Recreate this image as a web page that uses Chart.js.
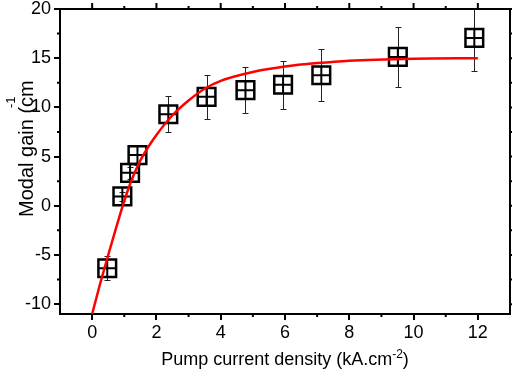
<!DOCTYPE html>
<html>
<head>
<meta charset="utf-8">
<script src="https://cdn.jsdelivr.net/npm/chart.js@4/dist/chart.umd.min.js"></script>
<style>
  html, body { margin: 0; padding: 0; background: #fff; }
  #wrap { width: 512px; height: 378px; }
</style>
</head>
<body>
<div id="wrap"><canvas id="gainChart" width="512" height="378"></canvas></div>
<script>
// measured points
const currentDensity = [0.47, 0.94, 1.18, 1.41, 2.37, 3.56, 4.77, 5.94, 7.13, 9.51, 11.89];
const modalGain = [-6.35, 0.95, 3.35, 5.15, 9.3, 11.07, 11.75, 12.3, 13.27, 15.13, 17.06];
const gainError = [1.2, 0.5, 0.6, 1.0, 1.85, 2.2, 2.35, 2.45, 2.65, 3.05, 3.35];

// fitted curve (red)
const fitDensity = [0, 0.25, 0.5, 0.75, 1, 1.25, 1.5, 1.75, 2, 2.5, 3, 3.5, 4, 5, 6, 7, 8, 10, 12];
const fitGain = [-11, -7.9, -5.0, -2.2, 0.5, 2.8, 4.6, 6.0, 7.2, 9.2, 10.7, 11.9, 12.7, 13.6, 14.15, 14.5, 14.75, 14.95, 15.0];

// axes
const xTickValues = [0, 2, 4, 6, 8, 10, 12];
const yTickValues = [-10, -5, 0, 5, 10, 15, 20];
const xMinorValues = [1, 3, 5, 7, 9, 11];
const yMinorValues = [-7.5, -2.5, 2.5, 7.5, 12.5, 17.5];

const FONT = '"Liberation Sans", Arial, sans-serif';

const errorBars = {
    id: 'errorBars',
    beforeDatasetsDraw(chart) {
        const { ctx, chartArea, scales: { x, y } } = chart;
        ctx.save();
        ctx.beginPath();
        ctx.rect(chartArea.left, chartArea.top, chartArea.width, chartArea.height);
        ctx.clip();
        ctx.strokeStyle = '#222';
        ctx.lineWidth = 1;
        currentDensity.forEach((d, i) => {
            const px = Math.round(x.getPixelForValue(d)) + 0.5;
            const top = Math.round(y.getPixelForValue(modalGain[i] + gainError[i])) + 0.5;
            const bot = Math.round(y.getPixelForValue(modalGain[i] - gainError[i])) + 0.5;
            ctx.beginPath();
            ctx.moveTo(px, top); ctx.lineTo(px, bot);
            ctx.moveTo(px - 3, top); ctx.lineTo(px + 3, top);
            ctx.moveTo(px - 3, bot); ctx.lineTo(px + 3, bot);
            ctx.stroke();
        });
        ctx.restore();
    }
};

// top/right frame plus minor ticks
const frame = {
    id: 'frame',
    afterDraw(chart) {
        const { ctx, chartArea: a, scales: { x, y } } = chart;
        ctx.save();
        ctx.strokeStyle = '#000';
        ctx.lineWidth = 2;
        ctx.beginPath();
        ctx.moveTo(a.left, a.top); ctx.lineTo(a.right, a.top); ctx.lineTo(a.right, a.bottom);
        xTickValues.forEach(v => {
            const px = x.getPixelForValue(v);
            ctx.moveTo(px, a.top); ctx.lineTo(px, a.top - 6);
        });
        xMinorValues.forEach(v => {
            const px = x.getPixelForValue(v);
            ctx.moveTo(px, a.top); ctx.lineTo(px, a.top - 3);
            ctx.moveTo(px, a.bottom); ctx.lineTo(px, a.bottom + 3);
        });
        yTickValues.forEach(v => {
            const py = y.getPixelForValue(v);
            ctx.moveTo(a.right, py); ctx.lineTo(a.right + 6, py);
        });
        yMinorValues.forEach(v => {
            const py = y.getPixelForValue(v);
            ctx.moveTo(a.left, py); ctx.lineTo(a.left - 3, py);
            ctx.moveTo(a.right, py); ctx.lineTo(a.right + 3, py);
        });
        ctx.stroke();
        ctx.restore();
    }
};

// axis titles with superscripts
const titles = {
    id: 'titles',
    afterDraw(chart) {
        const ctx = chart.ctx;
        ctx.save();
        ctx.fillStyle = '#000';
        ctx.textBaseline = 'alphabetic';
        ctx.textAlign = 'left';

        const big = '18px ' + FONT, small = '12px ' + FONT;
        ctx.font = big;
        const base = 'Pump current density (kA.cm', tail = ')';
        const wBase = ctx.measureText(base).width, wTail = ctx.measureText(tail).width;
        ctx.font = small;
        const wSup = ctx.measureText('-2').width;
        let sx = 285 - (wBase + wSup + wTail) / 2;
        const by = 365;
        ctx.font = big; ctx.fillText(base, sx, by);
        ctx.font = small; ctx.fillText('-2', sx + wBase, by - 7);
        ctx.font = big; ctx.fillText(tail, sx + wBase + wSup, by);

        ctx.translate(33, 217);
        ctx.rotate(-Math.PI / 2);
        ctx.font = '20px ' + FONT;
        ctx.fillText('Modal gain (cm', 0, 0);
        ctx.font = '13px ' + FONT;
        ctx.fillText('-1', 109, -18);
        ctx.restore();
    }
};

document.addEventListener('DOMContentLoaded', () => {
    const ctx = document.getElementById('gainChart').getContext('2d');
    new Chart(ctx, {
        type: 'scatter',
        data: {
            datasets: [
                {
                    label: 'fit',
                    data: fitDensity.map((d, i) => ({ x: d, y: fitGain[i] })),
                    showLine: true,
                    borderColor: '#ff0000',
                    borderWidth: 2.5,
                    pointRadius: 0,
                    cubicInterpolationMode: 'monotone',
                    order: 0
                },
                {
                    label: 'cross',
                    data: currentDensity.map((d, i) => ({ x: d, y: modalGain[i] })),
                    pointStyle: 'cross',
                    pointRadius: 9,
                    borderColor: '#000',
                    borderWidth: 2,
                    order: 1
                },
                {
                    label: 'gain',
                    data: currentDensity.map((d, i) => ({ x: d, y: modalGain[i] })),
                    pointStyle: 'rect',
                    pointRadius: 12.5,
                    borderColor: '#000',
                    backgroundColor: 'rgba(0,0,0,0)',
                    borderWidth: 2.5,
                    order: 2
                }
            ]
        },
        options: {
            responsive: false,
            animation: false,
            devicePixelRatio: 1,
            layout: { autoPadding: false, padding: { top: 9, right: 2, left: 0, bottom: 0 } },
            plugins: { legend: { display: false }, tooltip: { enabled: false } },
            scales: {
                x: {
                    type: 'linear',
                    min: -1,
                    max: 13,
                    afterBuildTicks: s => { s.ticks = xTickValues.map(v => ({ value: v })); },
                    afterFit: s => { s.height = 64; s.paddingLeft = 0; s.paddingRight = 0; },
                    border: { display: true, color: '#000', width: 2 },
                    grid: { drawOnChartArea: false, drawTicks: true, tickLength: 6, color: '#000', lineWidth: 2 },
                    ticks: { color: '#000', padding: 2, font: { family: FONT, size: 18 }, maxRotation: 0 }
                },
                y: {
                    type: 'linear',
                    min: -11,
                    max: 20,
                    afterBuildTicks: s => { s.ticks = yTickValues.map(v => ({ value: v })); },
                    afterFit: s => { s.width = 60; s.paddingTop = 0; s.paddingBottom = 0; },
                    border: { display: true, color: '#000', width: 2 },
                    grid: { drawOnChartArea: false, drawTicks: true, tickLength: 6, color: '#000', lineWidth: 2 },
                    ticks: { color: '#000', padding: 3, font: { family: FONT, size: 18 } }
                }
            }
        },
        plugins: [errorBars, frame, titles]
    });
});
</script>
</body>
</html>
